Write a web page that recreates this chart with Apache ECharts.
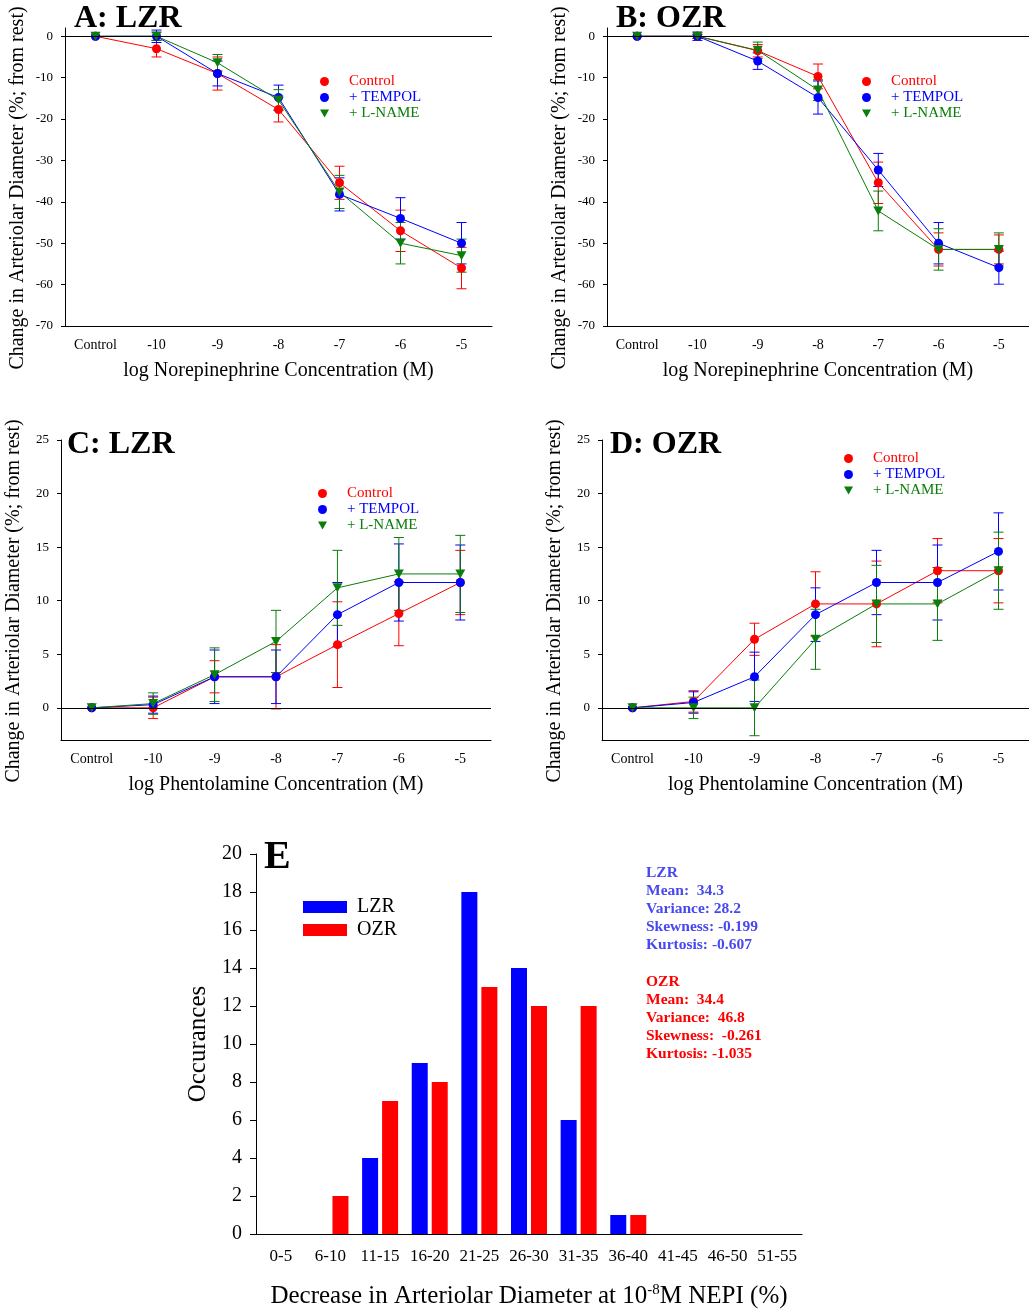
<!DOCTYPE html>
<html>
<head>
<meta charset="utf-8">
<script src="https://cdn.jsdelivr.net/npm/echarts@6.0.0/dist/echarts.min.js"></script>
<style>
  html, body { margin: 0; padding: 0; background: #fff; }
  #chart { width: 1029px; height: 1310px; }
</style>
</head>
<body>
<div id="chart"></div>
<script>
const FONT = "'Liberation Serif', 'Times New Roman', serif";
const RED = "#ff0000";
const BLUE = "#0000ff";
const GREEN = "#0a7d0a";
const TRI = "path://M0,0L10,0L5,9Z";

const concs = ["Control", "-10", "-9", "-8", "-7", "-6", "-5"];

// panel A: LZR, norepinephrine
const aControl = [0, -3, -9, -17.7, -35.4, -47, -56];
const aControlErr = [0, 2, 4, 3, 4, 5, 5];
const aTempol = [0, 0, -9, -14.8, -38.2, -44, -50];
const aTempolErr = [0, 1.5, 3, 3, 4, 5, 5];
const aLname = [0, 0, -6.4, -15.4, -37.6, -50, -53];
const aLnameErr = [0, 1, 2, 2.5, 4, 5, 4];

// panel B: OZR, norepinephrine
const bControl = [0, 0, -3.5, -9.7, -35.4, -51.5, -51.5];
const bControlErr = [0, 0.5, 1.5, 3, 5, 4, 3.5];
const bTempol = [0, 0, -6, -14.8, -32.3, -50, -55.9];
const bTempolErr = [0, 1, 2, 4, 4, 5, 4];
const bLname = [0, 0, -3.4, -13, -42.2, -51.5, -51.5];
const bLnameErr = [0, 0.5, 2, 2.5, 4.8, 5, 4];

// panel C: LZR, phentolamine
const cControl = [0, 0, 2.9, 2.9, 5.9, 8.8, 11.7];
const cControlErr = [0, 1, 1.5, 3, 4, 3, 3];
const cTempol = [0, 0.3, 2.9, 2.9, 8.7, 11.7, 11.7];
const cTempolErr = [0, 0.8, 2.5, 2.5, 3, 3.6, 3.5];
const cLname = [0, 0.4, 3.1, 6.2, 11.2, 12.5, 12.5];
const cLnameErr = [0, 1, 2.5, 2.9, 3.5, 3.4, 3.6];

// panel D: OZR, phentolamine
const dControl = [0, 0.6, 6.4, 9.7, 9.7, 12.8, 12.8];
const dControlErr = [0, 1, 1.5, 3, 4, 3, 3];
const dTempol = [0, 0.5, 2.9, 8.7, 11.7, 11.7, 14.6];
const dTempolErr = [0, 1, 2.3, 2.5, 3, 3.5, 3.6];
const dLname = [0, 0, 0, 6.4, 9.7, 9.7, 12.8];
const dLnameErr = [0, 1, 2.6, 2.8, 3.6, 3.4, 3.6];

// panel E: histogram
const bins = ["0-5", "6-10", "11-15", "16-20", "21-25", "26-30", "31-35", "36-40", "41-45", "46-50", "51-55"];
const lzrCounts = [0, 0, 4, 9, 18, 14, 6, 1, 0, 0, 0];
const ozrCounts = [0, 2, 7, 8, 13, 12, 12, 1, 0, 0, 0];
const statsLZR = ["LZR", "Mean:  34.3", "Variance: 28.2", "Skewness: -0.199", "Kurtosis: -0.607"];
const statsOZR = ["OZR", "Mean:  34.4", "Variance:  46.8", "Skewness:  -0.261", "Kurtosis: -1.035"];

const negTicks = [-70, -60, -50, -40, -30, -20, -10, 0];
const posTicks = [0, 5, 10, 15, 20, 25];

const chart = echarts.init(document.getElementById("chart"));

const errRender = (color) => (params, api) => {
  const x = api.value(0);
  const lo = api.coord([x, api.value(1)]);
  const hi = api.coord([x, api.value(2)]);
  const w = 5;
  const st = { stroke: color, lineWidth: 1 };
  return {
    type: "group",
    children: [
      { type: "line", shape: { x1: lo[0], y1: lo[1], x2: hi[0], y2: hi[1] }, style: st },
      { type: "line", shape: { x1: lo[0] - w, y1: lo[1], x2: lo[0] + w, y2: lo[1] }, style: st },
      { type: "line", shape: { x1: hi[0] - w, y1: hi[1], x2: hi[0] + w, y2: hi[1] }, style: st },
    ],
  };
};

const errData = (means, errs) => {
  const out = [];
  for (let i = 0; i < means.length; i++) {
    if (errs[i] > 0) out.push([i, means[i] - errs[i], means[i] + errs[i]]);
  }
  return out;
};

const panelSeries = (idx, sets) => {
  const list = [];
  sets.forEach((s) => {
    list.push({
      name: s.name,
      type: "custom",
      xAxisIndex: idx,
      yAxisIndex: idx,
      renderItem: errRender(s.color),
      itemStyle: { color: s.color },
      data: errData(s.mean, s.err),
      z: 2,
    });
  });
  sets.forEach((s, k) => {
    const ser = {
      name: s.name,
      type: "line",
      xAxisIndex: idx,
      yAxisIndex: idx,
      data: s.mean,
      symbol: s.symbol,
      symbolSize: s.symbol === "circle" ? 9 : [10, 9],
      itemStyle: { color: s.color },
      lineStyle: { color: s.color, width: 1 },
      z: 3,
    };
    if (k === 0) {
      ser.markLine = {
        silent: true,
        symbol: "none",
        label: { show: false },
        lineStyle: { color: "#000", width: 1, type: "solid" },
        data: [{ yAxis: 0 }],
      };
    }
    list.push(ser);
  });
  return list;
};

const mk = (c, t, l) => [
  { name: "Control", color: RED, symbol: "circle", mean: c[0], err: c[1] },
  { name: "+ TEMPOL", color: BLUE, symbol: "circle", mean: t[0], err: t[1] },
  { name: "+ L-NAME", color: GREEN, symbol: TRI, mean: l[0], err: l[1] },
];

const catAxis = (idx, name) => ({
  gridIndex: idx,
  type: "category",
  data: concs,
  boundaryGap: true,
  axisLine: { onZero: false, lineStyle: { color: "#000", width: 1 } },
  axisTick: { alignWithLabel: true, length: 5, lineStyle: { color: "#000" } },
  axisLabel: { color: "#000", fontFamily: FONT, fontSize: 14, margin: 12 },
  name: name,
  nameLocation: "middle",
  nameGap: 35,
  nameTextStyle: { color: "#000", fontFamily: FONT, fontSize: 20 },
});

const valAxis = (idx, min, max, ticks) => ({
  gridIndex: idx,
  type: "value",
  min: min,
  max: max,
  splitLine: { show: false },
  axisLine: { show: true, lineStyle: { color: "#000", width: 1 } },
  axisTick: { show: true, length: 4, customValues: ticks, lineStyle: { color: "#000" } },
  axisLabel: { color: "#000", fontFamily: FONT, fontSize: 13, margin: 12, customValues: ticks },
  name: "Change in Arteriolar Diameter (%; from rest)",
  nameLocation: "middle",
  nameGap: 37,
  nameTextStyle: { color: "#000", fontFamily: FONT, fontSize: 20, padding: [0, 22, 0, 0] },
});

const legendItems = [
  { name: "Control", icon: "circle", textStyle: { color: RED } },
  { name: "+ TEMPOL", icon: "circle", textStyle: { color: BLUE } },
  { name: "+ L-NAME", icon: TRI, textStyle: { color: GREEN } },
];

const panelLegend = (left, top) => ({
  left: left,
  top: top,
  orient: "vertical",
  padding: 0,
  itemWidth: 9,
  itemHeight: 9,
  itemGap: 1,
  selectedMode: false,
  data: legendItems,
  textStyle: { fontFamily: FONT, fontSize: 15, padding: [0, 0, 0, 15] },
});

const titleStyle = (size) => ({ color: "#000", fontFamily: FONT, fontWeight: "bold", fontSize: size });

const option = {
  animation: false,
  backgroundColor: "#fff",
  title: [
    { text: "A: LZR", left: 74, top: 3, padding: 0, textStyle: titleStyle(32) },
    { text: "B: OZR", left: 616, top: 3, padding: 0, textStyle: titleStyle(32) },
    { text: "C: LZR", left: 67, top: 429, padding: 0, textStyle: titleStyle(32) },
    { text: "D: OZR", left: 610, top: 429, padding: 0, textStyle: titleStyle(32) },
    { text: "E", left: 264, top: 838, padding: 0, textStyle: titleStyle(40) },
  ],
  legend: [
    panelLegend(320, 74),
    panelLegend(862, 74),
    panelLegend(318, 486),
    panelLegend(844, 451),
    {
      left: 303,
      top: 897,
      orient: "vertical",
      padding: 0,
      itemWidth: 44,
      itemHeight: 12,
      itemGap: 3,
      selectedMode: false,
      data: [
        { name: "LZR", icon: "rect" },
        { name: "OZR", icon: "rect" },
      ],
      textStyle: { color: "#000", fontFamily: FONT, fontSize: 20, padding: [0, 0, 0, 5] },
    },
  ],
  grid: [
    { left: 65, top: 28, width: 427, height: 298 },
    { left: 607, top: 28, width: 426, height: 298 },
    { left: 61, top: 440, width: 430, height: 300 },
    { left: 602, top: 440, width: 430, height: 300 },
    { left: 256, top: 854, width: 546, height: 380 },
  ],
  xAxis: [
    catAxis(0, "log Norepinephrine Concentration (M)"),
    catAxis(1, "log Norepinephrine Concentration (M)"),
    catAxis(2, "log Phentolamine Concentration (M)"),
    catAxis(3, "log Phentolamine Concentration (M)"),
    {
      gridIndex: 4,
      type: "category",
      data: bins,
      axisLine: { lineStyle: { color: "#000", width: 1 } },
      axisTick: { alignWithLabel: true, length: 6, lineStyle: { color: "#000" } },
      axisLabel: { color: "#000", fontFamily: FONT, fontSize: 17, margin: 14, interval: 0 },
      name: "{n|Decrease in Arteriolar Diameter at 10}{s|-8}{n|M NEPI (%)}",
      nameLocation: "middle",
      nameGap: 49,
      nameTextStyle: {
        rich: {
          n: { color: "#000", fontFamily: FONT, fontSize: 25 },
          s: { color: "#000", fontFamily: FONT, fontSize: 15, verticalAlign: "top", padding: [0, 0, 12, 0] },
        },
      },
    },
  ],
  yAxis: [
    valAxis(0, -70, 2, negTicks),
    valAxis(1, -70, 2, negTicks),
    valAxis(2, -3, 25, posTicks),
    valAxis(3, -3, 25, posTicks),
    {
      gridIndex: 4,
      type: "value",
      min: 0,
      max: 20,
      interval: 2,
      splitLine: { show: false },
      axisLine: { show: true, lineStyle: { color: "#000", width: 1 } },
      axisTick: { show: true, length: 6, lineStyle: { color: "#000" } },
      axisLabel: { color: "#000", fontFamily: FONT, fontSize: 20, margin: 14 },
      name: "Occurances",
      nameLocation: "middle",
      nameGap: 42,
      nameTextStyle: { color: "#000", fontFamily: FONT, fontSize: 25 },
    },
  ],
  graphic: [
    {
      type: "text",
      left: 646,
      top: 864,
      style: {
        text: statsLZR.join("\n"),
        fill: "#4848f0",
        font: "bold 15.5px " + FONT,
        lineHeight: 18,
      },
    },
    {
      type: "text",
      left: 646,
      top: 973,
      style: {
        text: statsOZR.join("\n"),
        fill: "#ff0000",
        font: "bold 15.5px " + FONT,
        lineHeight: 18,
      },
    },
  ],
  series: [
    ...panelSeries(0, mk([aControl, aControlErr], [aTempol, aTempolErr], [aLname, aLnameErr])),
    ...panelSeries(1, mk([bControl, bControlErr], [bTempol, bTempolErr], [bLname, bLnameErr])),
    ...panelSeries(2, mk([cControl, cControlErr], [cTempol, cTempolErr], [cLname, cLnameErr])),
    ...panelSeries(3, mk([dControl, dControlErr], [dTempol, dTempolErr], [dLname, dLnameErr])),
    {
      name: "LZR",
      type: "bar",
      xAxisIndex: 4,
      yAxisIndex: 4,
      data: lzrCounts,
      barWidth: 16,
      barGap: "25%",
      itemStyle: { color: BLUE },
    },
    {
      name: "OZR",
      type: "bar",
      xAxisIndex: 4,
      yAxisIndex: 4,
      data: ozrCounts,
      barWidth: 16,
      barGap: "25%",
      itemStyle: { color: RED },
    },
  ],
};

chart.setOption(option);
</script>
</body>
</html>
